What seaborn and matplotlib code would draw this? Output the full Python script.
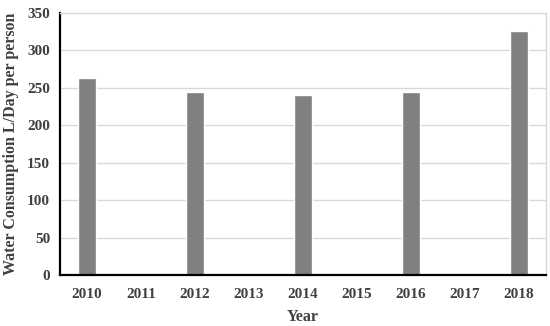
import numpy as np
import pandas as pd
import matplotlib
matplotlib.use("Agg")
import matplotlib.pyplot as plt
import seaborn as sns

# Données
annees_axe = ["2010", "2011", "2012", "2013", "2014", "2015", "2016", "2017", "2018"]
annees     = ["2010", "2012", "2014", "2016", "2018"]
conso      = [263, 245, 241, 244, 326]

df = pd.DataFrame({"annee": annees, "conso": conso})

sns.set_theme(style="white")
plt.rcParams["font.family"] = ["Liberation Serif", "DejaVu Serif"]
plt.rcParams["font.weight"] = "bold"

fig, ax = plt.subplots(figsize=(5.5, 3.26), dpi=100)
sns.barplot(data=df, x="annee", y="conso", order=annees_axe,
            color="#808080", saturation=1, width=0.33, ax=ax)

ax.set_ylim(0, 350)
ax.set_yticks(np.arange(0, 351, 50))
ax.yaxis.grid(True, color="#d9d9d9", linewidth=1)
ax.set_axisbelow(True)

for s in ["top", "right"]:
    ax.spines[s].set_color("#d9d9d9")
    ax.spines[s].set_linewidth(1)
for s in ["left", "bottom"]:
    ax.spines[s].set_color("black")
    ax.spines[s].set_linewidth(1.6)

ax.tick_params(axis="both", labelsize=11, colors="#404040", length=0)
ax.tick_params(axis="x", pad=9)
ax.tick_params(axis="y", pad=7)
for lab in ax.get_xticklabels() + ax.get_yticklabels():
    lab.set_fontweight("bold")
    lab.set_color("#404040")

ax.set_xlabel("Year", fontsize=11.5, fontweight="bold", color="#404040", labelpad=6)
ax.set_ylabel("Water Consumption L/Day per person", fontsize=11.5,
              fontweight="bold", color="#404040", labelpad=6)

fig.subplots_adjust(left=0.109, right=0.993, top=0.96, bottom=0.156)
fig.savefig("out.png", dpi=100)
plt.close(fig)
